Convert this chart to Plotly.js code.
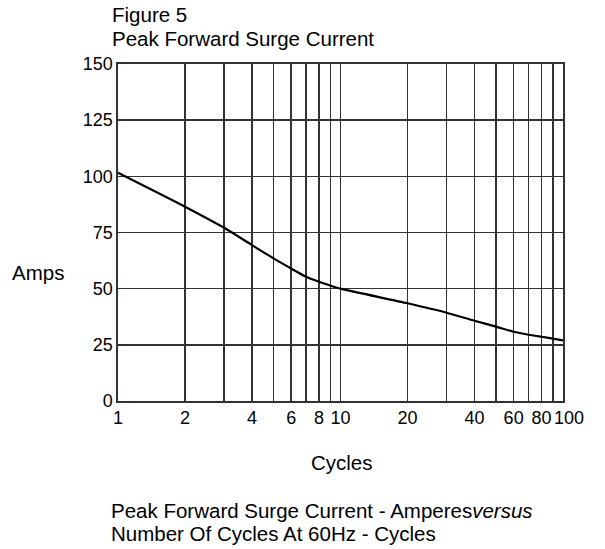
<!DOCTYPE html>
<html>
<head>
<meta charset="utf-8">
<script src="https://cdn.plot.ly/plotly-3.0.1.min.js"></script>
<style>html,body{margin:0;padding:0;background:#fff;}#chart{width:605px;height:549px;}</style>
</head>
<body>
<div id="chart"></div>
<script>
// Cycles (x) and peak forward surge current in amperes (y)
const cycles = [1, 2, 3, 4, 5, 6, 7, 8, 9, 10, 20, 30, 40, 50, 60, 70, 80, 90, 100];
const amps = [101.6, 86.5, 77.1, 69.4, 63.5, 59.0, 55.3, 53.1, 51.4, 50.0, 43.5, 39.3, 35.7, 33.1, 30.8, 29.5, 28.6, 27.8, 27.0];
const xTickVals = [1, 2, 4, 6, 8, 10, 20, 40, 60, 80];
const xTickText = ["1", "2", "4", "6", "8", "10", "20", "40", "60", "80"];
const xEndTickVals = [100];
const xEndTickText = ["100"];
const xMinorVals = [3, 5, 7, 9, 30, 50, 70, 90, 100];
const yTickVals = [0, 25, 50, 75, 100, 125, 150];

const font = "Liberation Sans, Arial, sans-serif";
const L = 118, R = 42, T = 64, B = 148, W = 605, H = 549;
const PW = W - L - R, PH = H - T - B;
const px = x => (x - L) / PW;
const py = y => (H - B - y) / PH;
const txt = (text, x, y, size, extra) => Object.assign({
  text, xref: "paper", yref: "paper", x: px(x), y: py(y), xanchor: "left", yanchor: "middle",
  showarrow: false, align: "left", font: {family: font, size, color: "#000"}
}, extra || {});

const trace = {
  x: cycles, y: amps, type: "scatter", mode: "lines",
  line: {color: "#000", width: 2.2, shape: "spline", smoothing: 0.6},
  hoverinfo: "skip", showlegend: false
};
const ghost = Object.assign({}, trace, {xaxis: "x2", opacity: 0});

const gridCol = "#333", gridW = 1.5;
const layout = {
  width: W, height: H,
  margin: {l: L, r: R, t: T, b: B},
  paper_bgcolor: "#fff", plot_bgcolor: "#fff",
  font: {family: font, size: 18, color: "#000"},
  xaxis: {
    type: "log", range: [0, 2],
    tickmode: "array", tickvals: xTickVals, ticktext: xTickText, tickangle: 0,
    showgrid: true, gridcolor: gridCol, gridwidth: gridW,
    minor: {tickmode: "array", tickvals: xMinorVals, showgrid: true, gridcolor: gridCol, gridwidth: gridW, ticks: ""},
    showline: true, linecolor: gridCol, linewidth: 1.6, mirror: true,
    ticks: "", zeroline: false,
    tickfont: {family: font, size: 18, color: "#000"}
  },
  xaxis2: {
    type: "log", range: [0, 2], overlaying: "x", side: "bottom",
    tickmode: "array", tickvals: xEndTickVals, ticktext: xEndTickText, tickangle: 0,
    ticklabelshift: 6, ticklabelstandoff: 4,
    showgrid: false, showline: false, ticks: "", zeroline: false,
    tickfont: {family: font, size: 18, color: "#000"}
  },
  yaxis: {
    range: [0, 150], tickmode: "array", tickvals: yTickVals,
    showgrid: true, gridcolor: gridCol, gridwidth: gridW,
    showline: true, linecolor: gridCol, linewidth: 1.6, mirror: true,
    ticks: "", zeroline: false,
    tickfont: {family: font, size: 18, color: "#000"}
  },
  annotations: [
    txt("Figure 5", 110, 15, 20.5),
    txt("Peak Forward Surge Current", 110, 38, 20.5),
    txt("Amps", 10, 272, 20.5),
    txt("Cycles", 342, 462, 20.5, {xanchor: "center"}),
    txt("Peak Forward Surge Current - Amperes<i>versus</i>", 109, 510, 20.5),
    txt("Number Of Cycles At 60Hz - Cycles", 109, 533, 20.5)
  ]
};

Plotly.newPlot("chart", [trace, ghost], layout, {displayModeBar: false, staticPlot: true});
</script>
</body>
</html>
